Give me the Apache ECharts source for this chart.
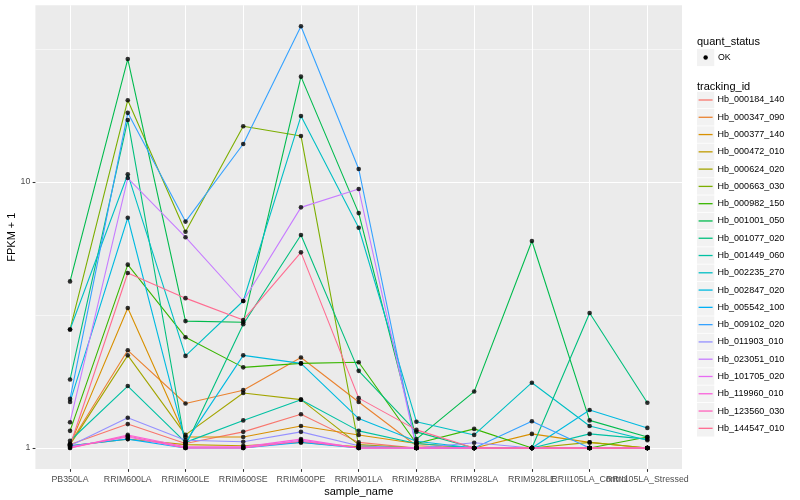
<!DOCTYPE html>
<html>
<head>
<meta charset="utf-8">
<script src="https://cdn.jsdelivr.net/npm/echarts@6.0.0/dist/echarts.min.js"></script>
<style>
html,body{margin:0;padding:0;background:#ffffff;}
#c{width:800px;height:500px;}
</style>
</head>
<body>
<div id="c"></div>
<script>
// ---- data ----
const samples = ['PB350LA','RRIM600LA','RRIM600LE','RRIM600SE','RRIM600PE','RRIM901LA','RRIM928BA','RRIM928LA','RRIM928LE','RRII105LA_Control','RRII105LA_Stressed'];

const trackingIds = ['Hb_000184_140','Hb_000347_090','Hb_000377_140','Hb_000472_010','Hb_000624_020','Hb_000663_030','Hb_000982_150','Hb_001001_050','Hb_001077_020','Hb_001449_060','Hb_002235_270','Hb_002847_020','Hb_005542_100','Hb_009102_020','Hb_011903_010','Hb_023051_010','Hb_101705_020','Hb_119960_010','Hb_123560_030','Hb_144547_010'];

const quantStatus = ['OK'];

// FPKM + 1 per sample (order of `samples`)
const Hb_000184_140 = [1.03, 1.23, 1.04, 1.15, 1.34, 1.05, 1.00, 1.00, 1.00, 1.00, 1.00];
const Hb_000347_090 = [1.04, 2.33, 1.47, 1.65, 2.19, 1.49, 1.02, 1.00, 1.00, 1.00, 1.00];
const Hb_000377_140 = [1.03, 3.36, 1.10, 1.10, 1.21, 1.12, 1.04, 1.00, 1.13, 1.05, 1.00];
const Hb_000472_010 = [1.02, 1.08, 1.03, 1.02, 1.05, 1.01, 1.00, 1.00, 1.00, 1.00, 1.00];
const Hb_000624_020 = [1.03, 2.23, 1.12, 1.61, 1.52, 1.03, 1.00, 1.00, 1.00, 1.05, 1.00];
const Hb_000663_030 = [2.79, 20.3, 6.50, 16.2, 14.9, 1.02, 1.00, 1.00, 1.00, 1.00, 1.00];
const Hb_000982_150 = [1.16, 4.89, 2.61, 2.01, 2.08, 2.10, 1.04, 1.18, 1.00, 1.00, 1.10];
const Hb_001001_050 = [4.23, 29.0, 3.00, 2.97, 24.9, 7.64, 1.08, 1.63, 6.00, 1.27, 1.10];
const Hb_001077_020 = [1.81, 17.1, 1.02, 2.92, 6.32, 1.95, 1.15, 1.00, 1.00, 3.22, 1.48];
const Hb_001449_060 = [1.065, 1.71, 1.05, 1.27, 1.52, 1.16, 1.04, 1.00, 1.00, 1.13, 1.08];
const Hb_002235_270 = [2.79, 10.7, 2.22, 3.57, 17.7, 6.73, 1.256, 1.12, 1.76, 1.21, 1.07];
const Hb_002847_020 = [1.49, 7.34, 1.05, 2.23, 2.08, 1.29, 1.06, 1.00, 1.00, 1.39, 1.19];
const Hb_005542_100 = [1.02, 1.08, 1.00, 1.00, 1.05, 1.00, 1.00, 1.00, 1.00, 1.00, 1.00];
const Hb_009102_020 = [1.53, 18.2, 7.10, 13.9, 38.5, 11.2, 1.00, 1.00, 1.26, 1.00, 1.00];
const Hb_011903_010 = [1.02, 1.30, 1.07, 1.056, 1.15, 1.02, 1.00, 1.047, 1.00, 1.00, 1.00];
const Hb_023051_010 = [1.25, 10.35, 6.20, 3.57, 8.03, 9.41, 1.00, 1.00, 1.00, 1.00, 1.00];
const Hb_101705_020 = [1.01, 1.10, 1.00, 1.00, 1.07, 1.00, 1.00, 1.00, 1.00, 1.00, 1.00];
const Hb_119960_010 = [1.00, 1.12, 1.01, 1.01, 1.08, 1.00, 1.00, 1.00, 1.00, 1.00, 1.00];
const Hb_123560_030 = [1.00, 1.11, 1.00, 1.00, 1.06, 1.00, 1.00, 1.00, 1.00, 1.00, 1.00];
const Hb_144547_010 = [1.02, 4.55, 3.66, 3.03, 5.44, 1.54, 1.17, 1.00, 1.00, 1.00, 1.00];

const yTickValues = [1, 10];
const yMinorTickValues = [Math.sqrt(10), Math.sqrt(1000)];

// ---- styles ----
const palette = ['#F8766D','#EA8331','#D89000','#C09B00','#A3A500','#7CAE00','#39B600','#00BB4E','#00BF7D','#00C1A3','#00BFC4','#00BAE0','#00B0F6','#35A2FF','#9590FF','#C77CFF','#E76BF3','#FA62DB','#FF62BC','#FF6C91'];
const FONT = '"Liberation Sans", Arial, Helvetica, sans-serif';

const valuesById = [Hb_000184_140,Hb_000347_090,Hb_000377_140,Hb_000472_010,Hb_000624_020,Hb_000663_030,Hb_000982_150,Hb_001001_050,Hb_001077_020,Hb_001449_060,Hb_002235_270,Hb_002847_020,Hb_005542_100,Hb_009102_020,Hb_011903_010,Hb_023051_010,Hb_101705_020,Hb_119960_010,Hb_123560_030,Hb_144547_010];

// ggplot-like 5% expansion in log space
let lo = Infinity, hi = -Infinity;
valuesById.forEach(a => a.forEach(v => { const l = Math.log10(v); if (l < lo) lo = l; if (l > hi) hi = l; }));
const pad = (hi - lo) * 0.05;
const yMin = Math.pow(10, lo - pad);
const yMax = Math.pow(10, hi + pad);

const xIdx = samples.map((_, i) => i);
const xEven = xIdx.filter(i => i % 2 === 0);
const xOdd = xIdx.filter(i => i % 2 === 1);

const series = trackingIds.map((id, k) => ({
  type: 'line',
  name: id,
  data: valuesById[k].map((v, j) => [j, v]),
  symbol: 'none',
  showSymbol: false,
  lineStyle: { width: 1.1, color: palette[k] },
  itemStyle: { color: palette[k] },
  z: 2,
  silent: true,
  animation: false
}));
const pts = [];
valuesById.forEach(a => a.forEach((v, j) => pts.push([j, v])));
series.push({
  type: 'scatter', name: quantStatus[0], data: pts,
  symbol: 'circle', symbolSize: 4.6,
  itemStyle: { color: '#000000' }, z: 3, silent: true, animation: false
});

// legend key backgrounds and quant_status legend
const LEG_X = 697, KEY = 17.28, FIRST_Y = 100;
const graphics = [
  { type: 'text', x: LEG_X, y: 41.5, style: { text: 'quant_status', font: '11px ' + FONT, fill: '#000', verticalAlign: 'middle' } },
  { type: 'rect', shape: { x: LEG_X, y: 57.5 - KEY / 2, width: KEY, height: KEY }, style: { fill: '#F2F2F2' } },
  { type: 'circle', shape: { cx: LEG_X + KEY / 2, cy: 57.5, r: 2.2 }, style: { fill: '#000' } },
  { type: 'text', x: LEG_X + KEY + 3.6, y: 57.5, style: { text: quantStatus[0], font: '8.8px ' + FONT, fill: '#000', verticalAlign: 'middle' } },
  { type: 'text', x: LEG_X, y: 87, style: { text: 'tracking_id', font: '11px ' + FONT, fill: '#000', verticalAlign: 'middle' } }
];
trackingIds.forEach((id, i) => {
  graphics.push({ type: 'rect', silent: true, shape: { x: LEG_X, y: FIRST_Y + i * KEY - KEY / 2 + 0.4, width: KEY, height: KEY - 0.8 }, style: { fill: '#F2F2F2' } });
});

const xLabelStyle = { formatter: v => samples[Math.round(v)], color: '#4D4D4D', fontSize: 8.8, margin: 6, fontFamily: FONT, hideOverlap: false, showMinLabel: true, showMaxLabel: true };

const chart = echarts.init(document.getElementById('c'), null, { renderer: 'canvas', width: 800, height: 500 });
chart.setOption({
  animation: false,
  backgroundColor: '#ffffff',
  textStyle: { fontFamily: FONT },
  grid: {
    left: 35.4, top: 5.2, width: 646.6, height: 463.9,
    show: true, backgroundColor: '#EBEBEB', borderWidth: 0,
    containLabel: false, outerBoundsMode: 'none'
  },
  xAxis: [
    {
      type: 'value', min: -0.6, max: samples.length - 1 + 0.6, position: 'bottom',
      axisLine: { show: false, onZero: false },
      axisTick: { show: true, customValues: xIdx, length: 2.75, lineStyle: { color: '#333333', width: 1.07 } },
      axisLabel: Object.assign({ customValues: xEven }, xLabelStyle),
      splitLine: { show: true, lineStyle: { color: '#ffffff', width: 1.07 } },
      name: 'sample_name', nameLocation: 'middle', nameGap: 17, nameMoveOverlap: false,
      nameTextStyle: { color: '#000', fontSize: 11, fontFamily: FONT }
    },
    {
      type: 'value', min: -0.6, max: samples.length - 1 + 0.6, position: 'bottom', offset: 0,
      axisLine: { show: false, onZero: false },
      axisTick: { show: false, customValues: xOdd },
      axisLabel: Object.assign({ customValues: xOdd }, xLabelStyle),
      splitLine: { show: false }
    }
  ],
  yAxis: [
    {
      type: 'log', logBase: 10, min: yMin, max: yMax, position: 'left',
      axisLine: { show: false, onZero: false },
      axisTick: { show: true, customValues: yTickValues, length: 2.75, lineStyle: { color: '#333333', width: 1.07 } },
      axisLabel: { customValues: yTickValues, color: '#4D4D4D', fontSize: 8.8, margin: 5, fontFamily: FONT, showMinLabel: true, showMaxLabel: true },
      splitLine: { show: true, lineStyle: { color: '#ffffff', width: 1.07 } },
      name: 'FPKM + 1', nameLocation: 'middle', nameGap: 18, nameRotate: 90, nameMoveOverlap: false,
      nameTextStyle: { color: '#000', fontSize: 11, fontFamily: FONT }
    },
    {
      type: 'log', logBase: 10, min: yMin, max: yMax, position: 'left',
      axisLine: { show: false, onZero: false },
      axisTick: { show: false, customValues: yMinorTickValues },
      axisLabel: { show: false, customValues: yMinorTickValues },
      splitLine: { show: true, lineStyle: { color: '#ffffff', width: 0.55 } }
    }
  ],
  legend: {
    data: trackingIds, orient: 'vertical', left: LEG_X + 1.6, top: FIRST_Y - KEY / 2,
    itemWidth: 14, itemHeight: 1.3, itemGap: 0, icon: 'rect', padding: 0,
    selectedMode: false,
    textStyle: { fontSize: 9, color: '#000', lineHeight: KEY, fontFamily: FONT }
  },
  graphic: graphics,
  series: series
});
</script>
</body>
</html>
